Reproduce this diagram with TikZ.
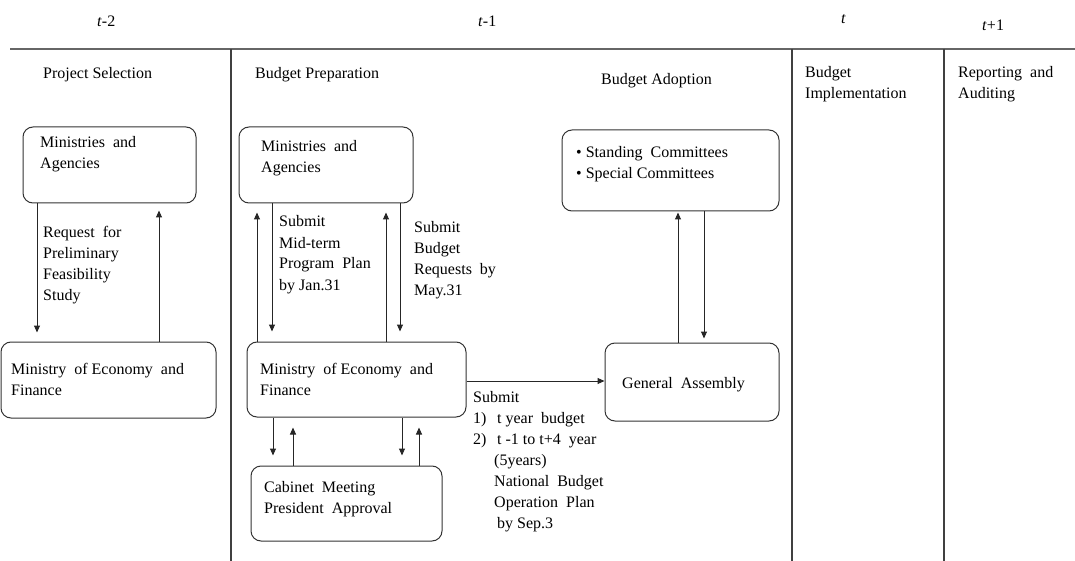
\documentclass[tikz,border=0pt]{standalone}
\usepackage{fontspec}
\setmainfont{Liberation Serif}
\usetikzlibrary{arrows.meta,fit}
\begin{document}
\begin{tikzpicture}[x=1pt,y=-1pt,
  box/.style={draw=black!80, line width=1pt, rounded corners=10pt, inner sep=0pt},
  % multi-line texts are placed by the baseline of their last line
  txt/.style={anchor=base west, inner sep=0pt, align=left, font=\fontsize{16}{21}\selectfont},
  flow/.style={draw=black!85, line width=1pt, -{Triangle[length=7pt,width=6pt]}},
  rule/.style={draw=black!75, line width=1.2pt}]
\useasboundingbox (0,0) rectangle (1075,561);

% period axis and column rules
\draw[rule, draw=black!60, line width=1.5pt] (10,49) -- (1075,49);
\draw[rule] (231,49) -- (231,561);
\draw[rule] (792,49) -- (792,561);
\draw[rule] (944,49) -- (944,561);

% period labels
\node[txt] (p1) at (97,27) {\textit{t}-2};
\node[txt] (p2) at (478,27) {\textit{t}-1};
\node[txt] (p3) at (841,24) {\textit{t}};
\node[txt] (p4) at (982,31) {\textit{t}+1};

% stage headings
\node[txt] (h1) at (43,79) {Project Selection};
\node[txt] (h2) at (255,79) {Budget Preparation};
\node[txt] (h3) at (601,85) {Budget Adoption};
\node[txt] (h4) at (805,99) {Budget\\Implementation};
\node[txt] (h5) at (958,99) {Reporting\ \ and\\Auditing};

% boxes
\node[box, fit={(23,127) (196,203)}] (a1) {};
\node[box, fit={(1,342) (216,418)}] (b1) {};
\node[box, fit={(239,127) (413,203)}] (a2) {};
\node[box, fit={(247,342) (466,417)}] (b2) {};
\node[box, fit={(562,130) (779,211)}] (cm) {};
\node[box, fit={(605,343) (779,421)}] (ga) {};
\node[box, fit={(251,466) (442,541)}] (cab) {};

% box texts
\node[txt] (a1t) at (40,169) {Ministries\ \ and\\Agencies};
\node[txt] (b1t) at (11,395) {Ministry\ \ of Economy\ \ and\\Finance};
\node[txt] (a2t) at (261,173) {Ministries\ \ and\\Agencies};
\node[txt] (b2t) at (260,395) {Ministry\ \ of Economy\ \ and\\Finance};
\node[txt] (cmt) at (576,179) {\textbullet\ Standing\ \ Committees\\\textbullet\ Special\ Committees};
\node[txt] (gat) at (622,388) {General\ \ Assembly};
\node[txt] (cabt) at (264,513) {Cabinet\ \ Meeting\\President\ \ Approval};

% project selection flows
\draw[flow, shorten >=9pt] (a1.south -| 37,0) -- (b1.north -| 37,0);
\draw[flow, shorten >=7pt] (b1.north -| 159,0) -- (a1.south -| 159,0);
\node[txt] (l1) at (43,300) {Request\ \ for\\Preliminary\\Feasibility\\Study};

% budget preparation flows
\draw[flow, shorten >=9pt] (b2.north -| 257,0) -- (a2.south -| 257,0);
\draw[flow, shorten >=10pt] (a2.south -| 272,0) -- (b2.north -| 272,0);
\draw[flow, shorten >=9pt] (b2.north -| 386,0) -- (a2.south -| 386,0);
\draw[flow, shorten >=10pt] (a2.south -| 400,0) -- (b2.north -| 400,0);
\node[txt] (l2) at (279,290) {Submit\\Mid-term\\Program\ \ Plan\\by Jan.31};
\node[txt] (l3) at (414,295) {Submit\\Budget\\Requests\ \ by\\May.31};

% cabinet flows
\draw[flow, shorten >=10pt] (b2.south -| 273,0) -- (cab.north -| 273,0);
\draw[flow, shorten >=10pt] (cab.north -| 293,0) -- (b2.south -| 293,0);
\draw[flow, shorten >=10pt] (b2.south -| 402,0) -- (cab.north -| 402,0);
\draw[flow, shorten >=10pt] (cab.north -| 419,0) -- (b2.south -| 419,0);

% submission to the assembly
\draw[flow] (b2.east |- 0,381) -- (ga.west |- 0,381);
\node[txt] (l4) at (473,528) {Submit\\\makebox[24pt][l]{1)}t year\ \ budget\\\makebox[24pt][l]{2)}t -1 to t+4\ \ year\\\hspace*{21pt}(5years)\\\hspace*{21pt}National\ \ Budget\\\hspace*{21pt}Operation\ \ Plan\\\hspace*{24pt}by Sep.3};

% committee review
\draw[flow, shorten >=1pt] (ga.north -| 678,0) -- (cm.south -| 678,0);
\draw[flow, shorten >=4pt] (cm.south -| 704,0) -- (ga.north -| 704,0);
\end{tikzpicture}
\end{document}
